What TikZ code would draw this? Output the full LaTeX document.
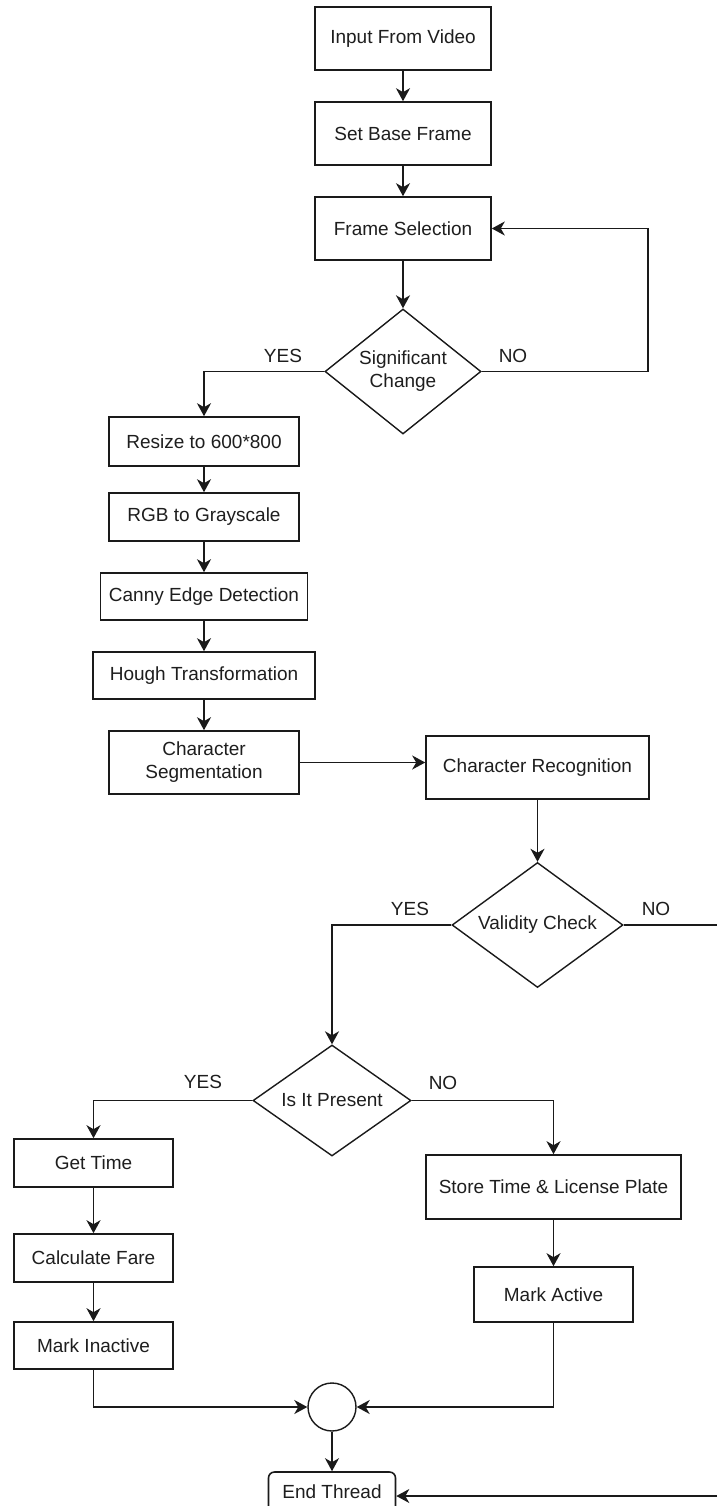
\documentclass[tikz,border=0pt]{standalone}
\usepackage{fontspec}
\setmainfont{Liberation Sans}
\usetikzlibrary{shapes.geometric,arrows.meta}
\definecolor{ln}{HTML}{1A1A1A}
\definecolor{txt}{HTML}{1E1E1E}
\begin{document}
\begin{tikzpicture}[x=1pt,y=-1pt,
  every node/.style={font=\fontsize{19}{23}\selectfont, text=txt},
  box/.style={draw=ln, line width=1.6pt, rectangle, inner sep=0pt, align=center, fill=white},
  dec/.style={draw=ln, line width=1.4pt, diamond, inner sep=0pt, align=center, fill=white},
  wire/.style={draw=ln, line width=1.6pt},
  arr/.style={wire, -{Stealth[length=13pt,width=14pt,inset=4pt]}}]
\useasboundingbox (0,0) rectangle (717,1506);
\clip (0,0) rectangle (717,1506);
\fill[white] (0,0) rectangle (717,1506);

% nodes
\node[box, minimum width=176pt, minimum height=63pt] (in) at (403,38.5) {Input From Video};
\node[box, minimum width=176pt, minimum height=63pt] (base) at (403,133.5) {Set Base Frame};
\node[box, minimum width=176pt, minimum height=63pt] (sel) at (403,228.5) {Frame Selection};
\node[dec, minimum width=156pt, minimum height=125pt, aspect=1.25] (sig) at (403,371.5) {Significant\\Change};
\node[box, minimum width=190pt, minimum height=49pt] (resize) at (204,441.5) {Resize to 600*800};
\node[box, minimum width=190pt, minimum height=48pt] (rgb) at (204,517) {RGB to Grayscale};
\node[box, minimum width=207pt, minimum height=47pt] (canny) at (204,596.5) {Canny Edge Detection};
\node[box, minimum width=222pt, minimum height=47pt] (hough) at (204,675.5) {Hough Transformation};
\node[box, minimum width=190pt, minimum height=63pt] (seg) at (204,762.5) {Character\\Segmentation};
\node[box, minimum width=223pt, minimum height=63pt] (rec) at (537.5,767.5) {Character Recognition};
\node[dec, minimum width=171pt, minimum height=125pt, aspect=1.37] (valid) at (537.5,925) {Validity Check};
\node[dec, minimum width=158pt, minimum height=111pt, aspect=1.42] (pres) at (332,1100.5) {Is It Present};
\node[box, minimum width=159pt, minimum height=48pt] (get) at (93.5,1163) {Get Time};
\node[box, minimum width=159pt, minimum height=48pt] (fare) at (93.5,1258) {Calculate Fare};
\node[box, minimum width=159pt, minimum height=47pt] (inact) at (93.5,1345.5) {Mark Inactive};
\node[box, minimum width=255pt, minimum height=64pt] (store) at (553.5,1187) {Store Time \& License Plate};
\node[box, minimum width=159pt, minimum height=55pt] (active) at (553.5,1294.5) {Mark Active};
\node[draw=ln, line width=1.4pt, circle, minimum size=48pt, inner sep=0pt] (circ) at (332,1407) {};
\node[box, rounded corners=6pt, minimum width=127pt, minimum height=40pt] (endt) at (332,1492) {End Thread};

% labels
\node (y1) at (283,356) {YES};
\node (n1) at (513,356) {NO};
\node (y2) at (410,909) {YES};
\node (n2) at (656,909) {NO};
\node (y3) at (203,1082) {YES};
\node (n3) at (443,1083) {NO};

% coordinates for free ends / bends
\coordinate (loopR) at (648,300);
\coordinate (vno) at (717,925);
\coordinate (eno) at (717,1496);

% connectors
\draw[arr] (in.south) -- (base.north);
\draw[arr] (base.south) -- (sel.north);
\draw[arr] (sel.south) -- (sig.north);
\draw[arr] (sig.east) -| (loopR) |- (sel.east);
\draw[arr] (sig.west) -| (resize.north);
\draw[arr] (resize.south) -- (rgb.north);
\draw[arr] (rgb.south) -- (canny.north);
\draw[arr] (canny.south) -- (hough.north);
\draw[arr] (hough.south) -- (seg.north);
\draw[arr] (seg.east) -- (seg.east -| rec.west);
\draw[arr] (rec.south) -- (valid.north);
\draw[wire] (valid.east) -- (vno);
\draw[arr] (valid.west) -| (pres.north);
\draw[arr] (pres.west) -| (get.north);
\draw[arr] (pres.east) -| (store.north);
\draw[arr] (get.south) -- (fare.north);
\draw[arr] (fare.south) -- (inact.north);
\draw[arr] (store.south) -- (active.north);
\draw[arr] (inact.south) |- (circ.west);
\draw[arr] (active.south) |- (circ.east);
\draw[arr] (circ.south) -- (endt.north);
\draw[arr] (eno) -- (eno -| endt.east);
\end{tikzpicture}
\end{document}
